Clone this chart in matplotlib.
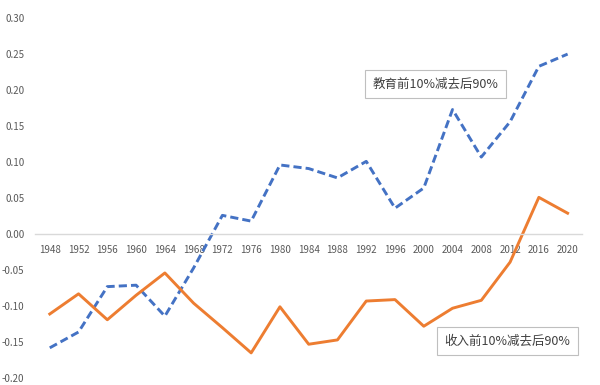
import matplotlib
matplotlib.use('Agg')
import matplotlib.pyplot as plt
import numpy as np

plt.rcParams['font.family'] = ['Noto Sans CJK SC', 'DejaVu Sans']

# chart data
years = ['1948', '1952', '1956', '1960', '1964', '1968', '1972', '1976', '1980', '1984',
         '1988', '1992', '1996', '2000', '2004', '2008', '2012', '2016', '2020']
education = [-0.158, -0.136, -0.073, -0.071, -0.114, -0.047, 0.026, 0.018, 0.096, 0.091,
             0.078, 0.101, 0.036, 0.064, 0.173, 0.107, 0.156, 0.233, 0.250]
income = [-0.111, -0.083, -0.119, -0.085, -0.054, -0.096, -0.130, -0.165, -0.101, -0.153,
          -0.147, -0.093, -0.091, -0.128, -0.103, -0.092, -0.039, 0.051, 0.029]
edu_label = '教育前10%减去后90%'
inc_label = '收入前10%减去后90%'
yticks = [-0.20, -0.15, -0.10, -0.05, 0.00, 0.05, 0.10, 0.15, 0.20, 0.25, 0.30]

fig = plt.figure(figsize=(6, 3.85), dpi=100)
ax = fig.add_axes([0.059, 0.018, 0.911, 0.935])

x = np.arange(len(years))
ax.plot(x, education, color='#4472C4', lw=2.1, dashes=(2.8, 1.4))
ax.plot(x, income, color='#ED7D31', lw=2.1)

ax.set_xlim(-0.5, len(years) - 0.5)
ax.set_ylim(-0.20, 0.30)
ax.set_yticks(yticks)
ax.set_yticklabels(['%.2f' % v for v in yticks])
ax.set_xticks(x)
ax.set_xticklabels(years)

for s in ['top', 'right', 'left']:
    ax.spines[s].set_visible(False)
ax.spines['bottom'].set_position(('data', 0))
ax.spines['bottom'].set_color('#d9d9d9')
ax.spines['bottom'].set_linewidth(1.0)
ax.tick_params(axis='both', length=0, labelsize=7, colors='#595959')
ax.tick_params(axis='x', pad=8)
ax.tick_params(axis='y', pad=8)

box = dict(boxstyle='square,pad=0.6', fc='white', ec='#bfbfbf', lw=0.8)
ax.text(13.4, 0.208, edu_label, fontsize=9, color='#404040', ha='center', va='center', bbox=box)
ax.text(15.9, -0.149, inc_label, fontsize=9, color='#404040', ha='center', va='center', bbox=box)

fig.savefig('out.png', dpi=100)
